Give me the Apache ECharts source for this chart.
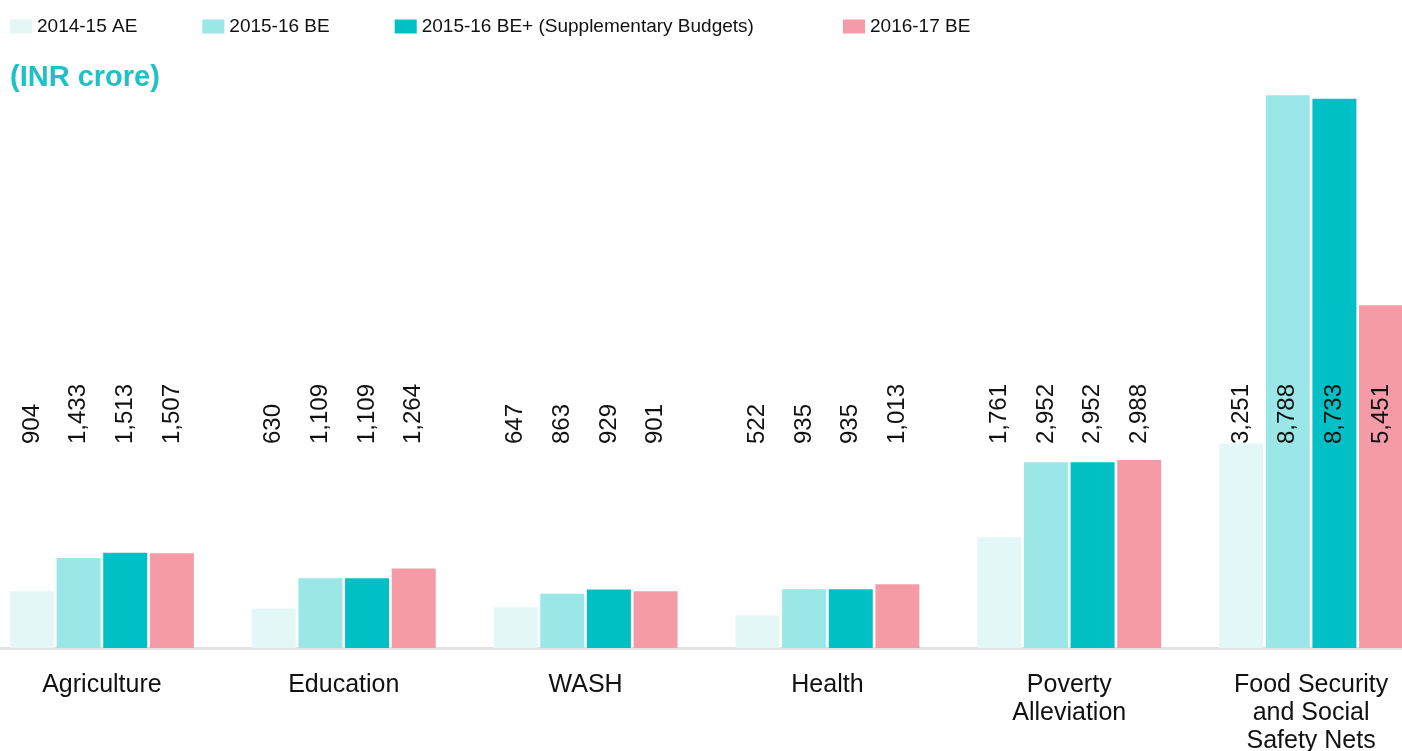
<!DOCTYPE html>
<html>
<head>
<meta charset="utf-8">
<title>Budget by sector</title>
<script src="https://cdn.jsdelivr.net/npm/echarts@6/dist/echarts.min.js"></script>
<style>
    html, body { margin: 0; padding: 0; background: #fff; }
    #chart { width: 1402px; height: 751px; }
</style>
</head>
<body>
<div id="chart"></div>
<script>
// sectors (x axis)
const categories = ['Agriculture', 'Education', 'WASH', 'Health', 'Poverty\nAlleviation', 'Food Security\nand Social\nSafety Nets'];
const seriesNames = ['2014-15 AE', '2015-16 BE', '2015-16 BE+ (Supplementary Budgets)', '2016-17 BE'];

// INR crore
const ae1415 = [904, 630, 647, 522, 1761, 3251];
const be1516 = [1433, 1109, 863, 935, 2952, 8788];
const bePlus1516 = [1513, 1109, 929, 935, 2952, 8733];
const be1617 = [1507, 1264, 901, 1013, 2988, 5451];

const colors = ['#e3f7f6', '#9be6e6', '#00c0c5', '#f49ba7'];
const fontFamily = '"Liberation Sans", Arial, sans-serif';

const chart = echarts.init(document.getElementById('chart'));

function makeSeries(name, data, color) {
    return {
        name: name,
        type: 'bar',
        data: data,
        barWidth: 44,
        barGap: '6%',
        itemStyle: { color: color },
        label: {
            show: true,
            position: 'insideBottom',
            distance: 204,      // all labels sit on one line above the baseline
            rotate: 90,
            align: 'left',
            verticalAlign: 'middle',
            color: '#111',
            fontSize: 24,
            fontFamily: fontFamily,
            formatter: p => p.value.toLocaleString('en-US')
        }
    };
}

function makeLegend(names, left) {
    return {
        data: names,
        left: left,
        top: 12,
        icon: 'rect',
        itemWidth: 22,
        itemHeight: 14,
        itemGap: 65,
        textStyle: { color: '#111', fontSize: 19, fontFamily: fontFamily }
    };
}

const option = {
    backgroundColor: '#fff',
    animation: false,
    textStyle: { fontFamily: fontFamily },
    title: {
        text: '(INR crore)',
        left: 5,
        top: 58,
        textStyle: { color: '#1fc1c6', fontSize: 29, fontWeight: 'bold', fontFamily: fontFamily }
    },
    // the original's legend text is wider than ours, so the last item is placed on its own
    legend: [
        makeLegend(seriesNames.slice(0, 3), 5),
        makeLegend(seriesNames.slice(3), 838)
    ],
    grid: { left: -19, right: -30, top: 82, bottom: 103, outerBoundsMode: 'none' },
    xAxis: {
        type: 'category',
        data: categories,
        axisTick: { show: false },
        axisLine: { lineStyle: { color: '#e2e2e2', width: 3 } },
        axisLabel: {
            color: '#111',
            fontSize: 25,
            lineHeight: 28,
            margin: 23,
            interval: 0,
            fontFamily: fontFamily
        }
    },
    yAxis: {
        type: 'value',
        min: 0,
        max: 9000,
        show: false,
        splitLine: { show: false }
    },
    series: [
        makeSeries(seriesNames[0], ae1415, colors[0]),
        makeSeries(seriesNames[1], be1516, colors[1]),
        makeSeries(seriesNames[2], bePlus1516, colors[2]),
        makeSeries(seriesNames[3], be1617, colors[3])
    ]
};

chart.setOption(option);
window.addEventListener('resize', () => chart.resize());
</script>
</body>
</html>
